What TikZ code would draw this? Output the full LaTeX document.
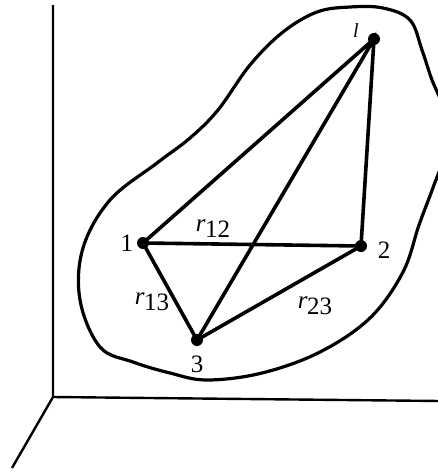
\documentclass[tikz,border=0pt]{standalone}
\usepackage{fontspec}
\setmainfont{Liberation Serif}
\begin{document}
\begin{tikzpicture}[x=1pt,y=-1pt,
  edge/.style={line width=3.6pt},
  axis/.style={line width=2.4pt},
  dot/.style={circle,fill=black,inner sep=0pt,minimum size=12pt},
  lab/.style={inner sep=0pt,font=\fontsize{25}{25}\selectfont}]
\useasboundingbox (0,0) rectangle (438,475);
\clip (0,0) rectangle (438,475);
\fill[white] (0,0) rectangle (438,475);
% axes
\coordinate (O) at (53,397);
\coordinate (Yt) at (53,5);
\coordinate (Xr) at (440,401);
\coordinate (Zb) at (12,468);
\draw[axis] (Yt) -- (O) -- (Xr);
\draw[axis] (O) -- (Zb);
% blob
\draw[line width=3.2pt] plot[smooth cycle, tension=0.6] coordinates {
 (350,7) (383,8) (410,20) (422,50) (432,80) (446,115) (446,150) (434,185)
 (419,225) (403,272) (370,318) (320,352) (262,373) (207,380) (170,373)
 (133,362) (100,347) (80,300) (83,248) (110,200) (157,163) (190,138)
 (218,110) (250,65) (283,32) (317,12)};
% points
\node[dot] (pl) at (374,39) {};
\node[dot] (p1) at (143,243) {};
\node[dot] (p2) at (361,246) {};
\node[dot] (p3) at (197,340) {};
\draw[edge] (pl.center) -- (p1.center) -- (p2.center) -- (pl.center) -- (p3.center) -- (p1.center);
\draw[edge] (p3.center) -- (p2.center);
% labels
\node[lab,font=\fontsize{20}{20}\selectfont] (Ll) at (356,31) {\itshape l};
\node[lab] (L1) at (127,243) {1};
\node[lab] (L2) at (384,250) {2};
\node[lab] (L3) at (197,364) {3};
\node[lab] (R12) at (213,229) {\itshape r\kern-0.5pt\raisebox{-6pt}{\upshape 12}};
\node[lab] (R13) at (152,302) {\itshape r\kern-0.5pt\raisebox{-6pt}{\upshape 13}};
\node[lab] (R23) at (315,306) {\itshape r\kern-0.5pt\raisebox{-6pt}{\upshape 23}};
\end{tikzpicture}
\end{document}
